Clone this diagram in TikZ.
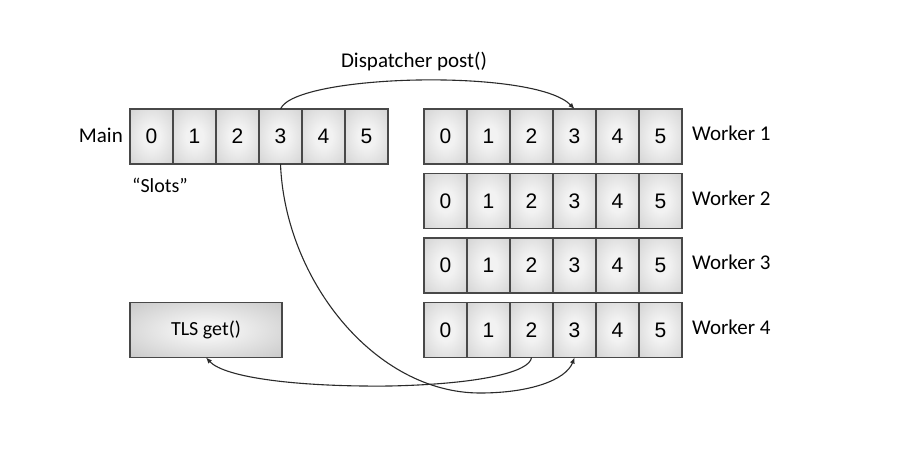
\documentclass[tikz,border=0pt]{standalone}
\usepackage{fontspec}
\setmainfont{Carlito}
\newfontfamily\digitfont{Liberation Sans}
\usetikzlibrary{arrows.meta}
\definecolor{cellin}{HTML}{F2F2F2}
\definecolor{cellout}{HTML}{C2C2C2}
\definecolor{cellcorner}{HTML}{ACACAC}
\definecolor{tlsout}{HTML}{B4B4B4}
\definecolor{tlscorner}{HTML}{A4A4A4}
\definecolor{edgec}{HTML}{484848}
\definecolor{linec}{HTML}{2A2A2A}
\pgfdeclareradialshading{cellsh}{\pgfpoint{0bp}{0bp}}{color(0bp)=(cellin); color(10bp)=(cellin); color(50bp)=(cellout); color(72bp)=(cellcorner)}
\pgfdeclareradialshading{tlssh}{\pgfpoint{0bp}{0bp}}{color(0bp)=(cellin); color(8bp)=(cellin); color(50bp)=(tlsout); color(72bp)=(tlscorner)}
\begin{document}
\begin{tikzpicture}[x=1pt,y=-1pt,
  cell/.style={draw=edgec, line width=1.3pt, shading=cellsh, minimum width=43pt, minimum height=55pt, inner sep=0pt, outer sep=0pt, font=\digitfont\fontsize{21}{24}\selectfont},
  lbl/.style={font=\fontsize{21}{25}\selectfont, inner sep=0pt},
  conn/.style={draw=linec, line width=1.1pt},
  tip/.style={-{Latex[length=6pt,width=5pt]}}
]
\useasboundingbox[fill=white] (0,0) rectangle (911,448);
\foreach \i in {0,...,5} {
  \node[cell] (m\i) at ({130+(\i+0.5)*43}, 136.5) {\i};
}
\foreach \r in {1,...,4} {
  \foreach \i in {0,...,5} {
    \node[cell] (w\r\i) at ({424+(\i+0.5)*43}, {136.5+(\r-1)*64.5}) {\i};
  }
  \node[lbl, anchor=west] (wl\r) at (692, {133.5+(\r-1)*64.5}) {Worker \r};
}
\node[cell, shading=tlssh, minimum width=152pt, font=\fontsize{20}{24}\selectfont] (tls) at (206,330) {TLS get()};
\node[lbl] (disp) at (414,62) {Dispatcher post()};
\node[lbl, anchor=east] (mainl) at (123,135) {Main};
\node[lbl, anchor=west, font=\fontsize{20}{24}\selectfont] (slots) at (132,185) {“Slots”};
\coordinate (lowB) at (480,393);
\coordinate (lowA) at (390,386);
\draw[conn,tip] (m3.north) .. controls (295,74) and (535,68) .. (w13.north);
\draw[conn,tip] (m3.south) .. controls (285,280) and (375,393) .. (lowB) .. controls (530,393) and (566,380) .. (w43.south);
\draw[conn,tip] (w42.south) .. controls (530,372) and (480,384) .. (lowA) .. controls (300,387) and (225,378) .. (tls.south);
\end{tikzpicture}
\end{document}
